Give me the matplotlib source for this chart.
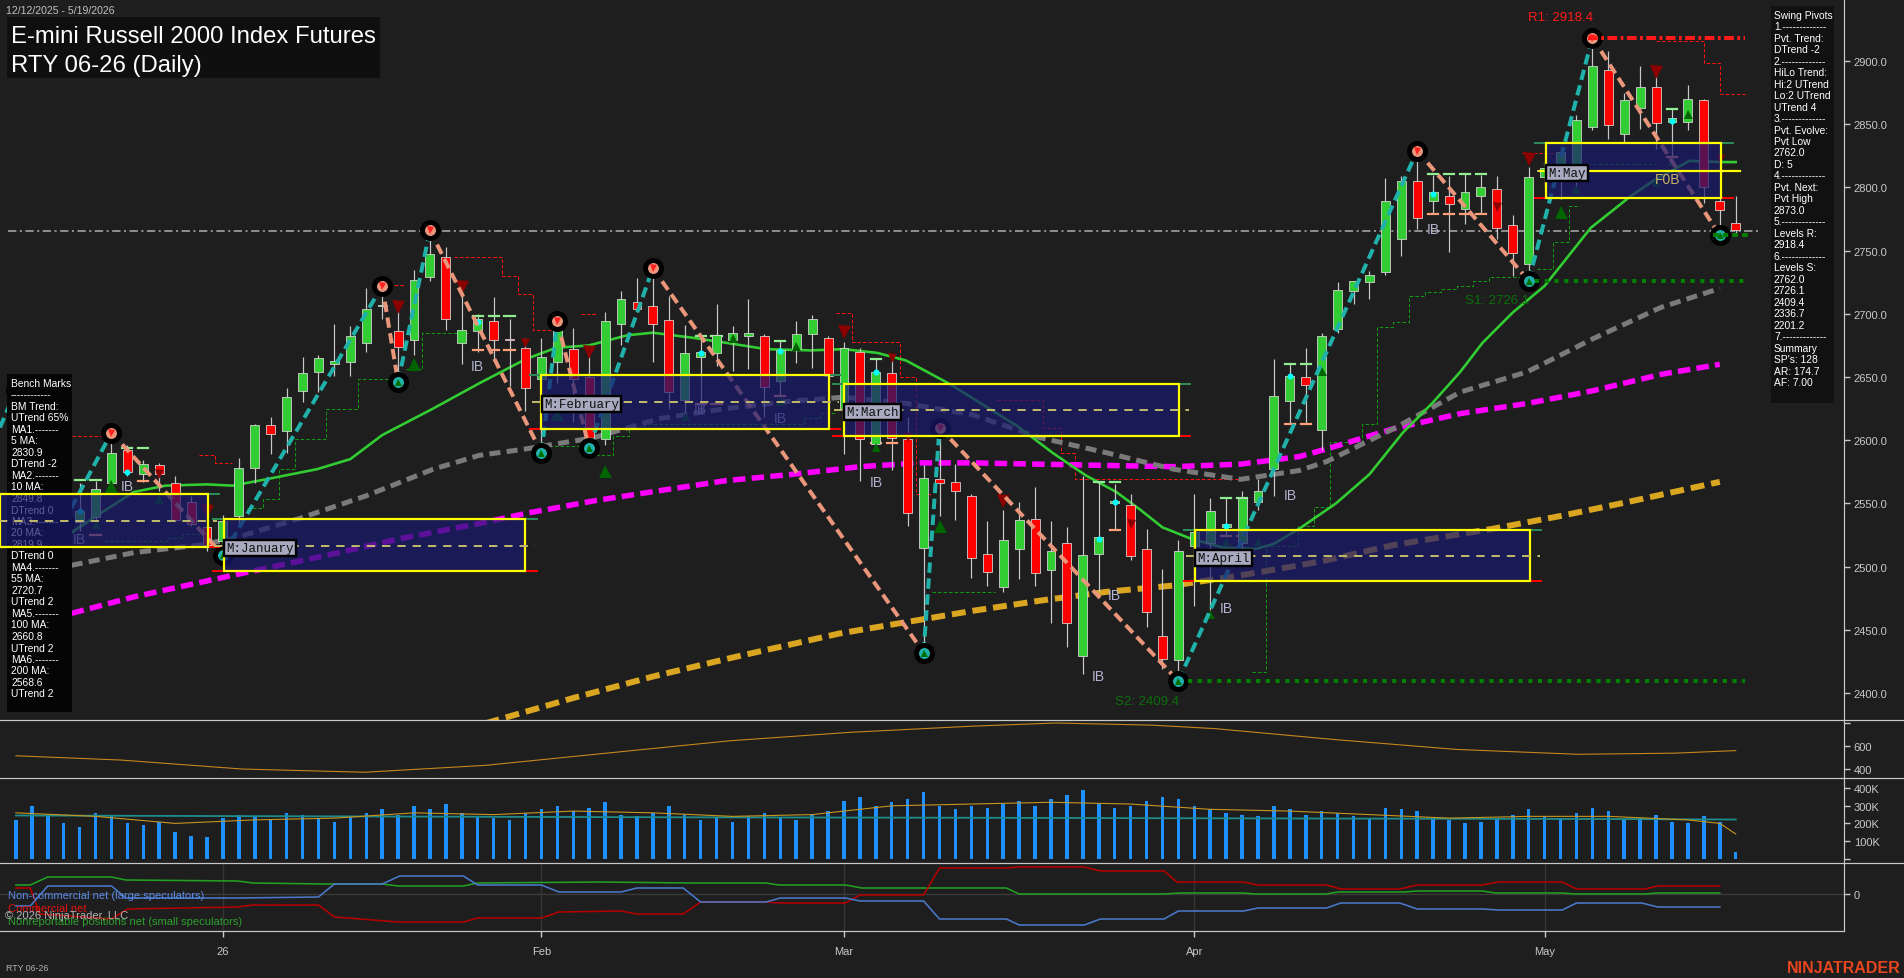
import matplotlib
matplotlib.use("Agg")
import matplotlib.pyplot as plt
from matplotlib.patches import Rectangle

plt.rcParams["font.family"] = ["Liberation Sans", "DejaVu Sans"]
plt.rcParams["lines.scale_dashes"] = False

W, H = 1904, 979
CHART_R = 1844
BG = "#1E1E1E"
FG = "#C8C8C8"
X_MIN, X_MAX = -1.0, 114.8
PT = 0.72  # points per pixel at 100 dpi

# ---------------- daily bars ----------------
opens = [2612, 2630, 2588, 2552, 2535, 2539, 2566, 2592, 2573, 2580,
         2566, 2551, 2531, 2520, 2540, 2578, 2612, 2607, 2639, 2654,
         2660, 2662, 2677, 2706, 2686, 2679, 2729, 2745, 2677, 2686,
         2694, 2680, 2673, 2648, 2662, 2672, 2650, 2601, 2692, 2709,
         2706, 2695, 2632, 2666, 2669, 2679, 2682, 2682, 2647, 2672,
         2684, 2681, 2625, 2670, 2597, 2653, 2601, 2515, 2569, 2567,
         2556, 2510, 2484, 2514, 2538, 2497, 2519, 2429, 2510, 2550,
         2549, 2514, 2445, 2426, 2516, 2519, 2531, 2519, 2551, 2577,
         2631, 2650, 2608, 2688, 2718, 2725, 2733, 2759, 2805, 2789,
         2793, 2783, 2793, 2799, 2770, 2739, 2808, 2806, 2805, 2848,
         2893, 2842, 2863, 2879, 2852, 2852, 2869, 2789, 2772]
highs = [2640, 2634, 2592, 2560, 2566, 2568, 2606, 2596, 2584, 2582,
         2572, 2556, 2535, 2541, 2586, 2613, 2618, 2641, 2666, 2667,
         2692, 2690, 2720, 2722, 2708, 2735, 2766, 2753, 2717, 2700,
         2713, 2696, 2681, 2681, 2694, 2689, 2667, 2701, 2718, 2728,
         2736, 2714, 2691, 2683, 2708, 2690, 2712, 2684, 2679, 2694,
         2699, 2682, 2678, 2673, 2664, 2665, 2618, 2580, 2610, 2581,
         2557, 2536, 2545, 2551, 2563, 2536, 2531, 2572, 2568, 2565,
         2557, 2530, 2498, 2521, 2557, 2554, 2554, 2560, 2569, 2664,
         2660, 2673, 2685, 2725, 2726, 2734, 2807, 2809, 2829, 2810,
         2809, 2811, 2810, 2809, 2778, 2816, 2822, 2832, 2857, 2918.4,
         2908, 2875, 2896, 2890, 2862, 2881, 2870, 2793, 2793]
lows = [2605, 2580, 2548, 2535, 2528, 2531, 2561, 2572, 2567, 2560,
        2535, 2532, 2512, 2509, 2532, 2566, 2589, 2590, 2630, 2638,
        2651, 2651, 2670, 2696, 2646, 2667, 2726, 2687, 2660, 2670,
        2664, 2643, 2623, 2590, 2645, 2614, 2594, 2596, 2675, 2701,
        2662, 2625, 2620, 2622, 2659, 2655, 2656, 2618, 2636, 2661,
        2657, 2648, 2589, 2568, 2592, 2576, 2532, 2432, 2540, 2537,
        2491, 2485, 2480, 2490, 2485, 2455, 2436, 2415, 2480, 2529,
        2505, 2452, 2419, 2409.4, 2469, 2466, 2524, 2515, 2545, 2556,
        2613, 2613, 2592, 2685, 2708, 2712, 2731, 2746, 2767, 2779,
        2749, 2771, 2779, 2759, 2730, 2726.1, 2800, 2791, 2800, 2845,
        2838, 2836, 2846, 2830, 2825, 2845, 2788, 2762, 2763]
closes = [2632, 2588, 2552, 2542, 2544, 2561, 2590, 2575, 2581, 2573,
          2537, 2534, 2517, 2536, 2578, 2612, 2605, 2634, 2653, 2665,
          2663, 2682, 2704, 2707, 2674, 2727, 2747, 2696, 2687, 2696,
          2679, 2679, 2641, 2666, 2687, 2648, 2598, 2694, 2712, 2704,
          2692, 2638, 2669, 2670, 2683, 2685, 2685, 2642, 2671, 2684,
          2696, 2651, 2673, 2601, 2654, 2602, 2542, 2570, 2566, 2560,
          2507, 2496, 2521, 2537, 2495, 2512, 2455, 2509, 2523, 2552,
          2508, 2464, 2427, 2512, 2527, 2544, 2534, 2554, 2560, 2635,
          2651, 2644, 2682, 2719, 2726, 2731, 2789, 2805, 2776, 2796,
          2787, 2796, 2800, 2768, 2748, 2808, 2815, 2828, 2853, 2896,
          2849, 2869, 2879, 2851, 2855, 2870, 2800, 2782, 2766]

# ---------------- moving averages ----------------
ma20_idx = [3.5, 5.3, 7.4, 9.4, 12, 13.6, 15.7, 18.9, 21, 23, 26.2, 29.1, 32, 33.9, 36, 38.4,
            40, 42.5, 44.6, 47.1, 49.9, 52, 54.1, 55.9, 58.7, 60.1, 62.9, 65.1, 67.2, 69.1,
            70.6, 72, 73.8, 75.8, 77.9, 79, 80.6, 82.9, 85, 87.1, 89, 90.7, 92.1, 94, 96,
            97.2, 98.9, 100.1, 101.4, 102.8, 105.1, 107, 108]
ma20_val = [2527, 2542, 2559, 2564, 2565, 2564, 2569, 2577, 2585, 2604, 2625, 2645, 2664, 2673,
            2675, 2683, 2685, 2681, 2677, 2672, 2671, 2672, 2669, 2663, 2644, 2633, 2611, 2590,
            2572, 2559, 2545, 2531, 2522, 2515, 2514, 2518, 2530, 2550, 2573, 2606, 2630, 2654,
            2677, 2701, 2722, 2741, 2768, 2780, 2793, 2805, 2821, 2820, 2820]
ma55_idx = [3.5, 7.4, 11.5, 13.6, 17.8, 22, 26.2, 29.1, 32, 36.3, 40.4, 44.6, 48.8, 52, 55.9,
            60.1, 64.3, 68.5, 72.7, 76.9, 80.6, 82.3, 86.5, 90.7, 94.9, 99, 103.3, 107]
ma55_val = [2501, 2511, 2517, 2522, 2538, 2556, 2577, 2588, 2593, 2602, 2617, 2625, 2631, 2634,
            2629, 2620, 2602, 2590, 2577, 2569, 2576, 2583, 2609, 2638, 2654, 2680, 2705, 2720]
ma100_idx = [3.5, 7.4, 13.6, 19.9, 24.1, 29.1, 32, 36.3, 40.4, 44.6, 48.8, 53, 56.8, 60.1,
             64.3, 68.5, 72.7, 76.9, 80.6, 82.3, 86.5, 90.7, 94.9, 99, 103.3, 107]
ma100_val = [2463, 2476, 2493, 2510, 2522, 2534, 2542, 2552, 2560, 2568, 2573, 2579, 2582, 2582,
             2581, 2580, 2579, 2581, 2587, 2593, 2609, 2621, 2629, 2639, 2652, 2660]
ma200_idx = [29.5, 35, 40, 45, 51.7, 55.9, 60.1, 64.3, 68.5, 72.7, 76.9, 80.6, 82.3, 86.5,
             92.8, 97, 101.2, 107]
ma200_val = [2376, 2396, 2413, 2428, 2447, 2456, 2465, 2473, 2480, 2485, 2493, 2501, 2505,
             2517, 2530, 2540, 2551, 2567]

# ---------------- swing pivots ----------------
piv_idx = [-1.0, 0, 3, 6, 13, 23, 24, 26, 33, 34, 36, 40, 57, 58, 73, 88, 95, 99, 107]
piv_val = [2610, 2640, 2535, 2606, 2509, 2722, 2646, 2766, 2590, 2694, 2594, 2736, 2432, 2610,
           2409.4, 2829, 2726.1, 2918.4, 2762]
piv_kind = ["L", "H", "L", "H", "L", "H", "L", "H", "L", "H", "L", "H", "L", "H", "L", "H",
            "L", "H", "L"]

# ---------------- monthly range boxes ----------------
box_names = ["", "M:January", "M:February", "M:March", "M:April", "M:May"]
box_start = [-1.0, 13.05, 33.0, 52.0, 74.05, 96.1]
box_end = [12.05, 32.0, 51.06, 73.05, 95.1, 107.1]
box_top = [2557.4, 2537.5, 2651.6, 2644.5, 2529.0, 2835.1]
box_bot = [2515.2, 2496.2, 2608.9, 2603.6, 2488.6, 2791.6]
box_mid = [2536.3, 2516.5, 2630.4, 2624.2, 2508.6, 2813.2]

# ---------------- trailing stop steps ----------------
red_steps = [
    [(3.5, 2603), (5.9, 2603)],
    [(11.5, 2588.5), (12.5, 2588.5), (12.5, 2581.6), (13.6, 2581.6)],
    [(23.4, 2723), (24.4, 2723)],
    [(27.5, 2744.6), (30.5, 2744.6), (30.5, 2729.6), (31.5, 2729.6), (31.5, 2715.4),
     (32.5, 2715.4), (32.5, 2687.4), (33.9, 2687.4)],
    [(35.5, 2699.5), (36.5, 2699.5)],
    [(51.5, 2700.3), (52.5, 2700.3), (52.5, 2678), (55.5, 2678), (55.5, 2649.7),
     (56.5, 2649.7), (56.5, 2557), (57.5, 2557)],
    [(61.6, 2631.8), (64.5, 2631.8), (64.5, 2609.6), (65.6, 2609.6), (65.6, 2590),
     (66.5, 2590), (66.5, 2569.3), (77.5, 2569.3)],
    [(94.6, 2827), (96.6, 2827)],
    [(103, 2915.6), (106, 2915.6), (106, 2898.4), (107, 2898.4), (107, 2873.9), (108.6, 2873.9)],
]
green_steps = [
    [(5.5, 2520.5), (9.5, 2520.5), (9.5, 2522.3), (10.5, 2522.3), (10.5, 2526), (11.5, 2526)],
    [(14.5, 2546), (15.5, 2546), (15.5, 2553.4), (16.5, 2553.4), (16.5, 2577.2), (17.5, 2577.2),
     (17.5, 2600.9), (19.5, 2600.9), (19.5, 2624.6), (21.5, 2624.6), (21.5, 2648.4),
     (23.5, 2648.4)],
    [(24.5, 2656), (25.5, 2656), (25.5, 2684.5), (28.5, 2684.5)],
    [(33.5, 2595.6), (36.5, 2595.6), (36.5, 2588), (37.5, 2588), (37.5, 2603.6), (38.5, 2603.6),
     (38.5, 2611.5), (39.5, 2611.5), (39.5, 2612.8), (49.5, 2612.8), (49.5, 2617.3),
     (50.5, 2617.3), (50.5, 2621.5), (51.5, 2621.5)],
    [(57.5, 2479.6), (61.5, 2479.6)],
    [(77.6, 2416.4), (78.5, 2416.4), (78.5, 2516.6), (80.5, 2516.6), (80.5, 2532.4),
     (81.5, 2532.4), (81.5, 2547), (82.5, 2547), (82.5, 2598.3), (84.5, 2598.3), (84.5, 2612.8),
     (85.5, 2612.8), (85.5, 2689.3), (86.5, 2689.3), (86.5, 2693.3), (87.5, 2693.3),
     (87.5, 2713.8), (88.5, 2713.8), (88.5, 2717.5), (89.5, 2717.5), (89.5, 2719.6),
     (90.5, 2719.6), (90.5, 2722.3), (91.5, 2722.3), (91.5, 2725.7), (92.5, 2725.7),
     (92.5, 2728.9), (94.5, 2728.9)],
    [(95.5, 2735.4), (96.5, 2735.4), (96.5, 2756.5), (97.5, 2756.5), (97.5, 2785.6), (98.2, 2785.6)],
    [(95.9, 2818.5), (103.0, 2818.5)],
]

# ---------------- bar markers ----------------
up_big_idx = [6, 25, 34, 37, 58, 97]
up_big_val = [2563.8, 2660.3, 2620.7, 2575.6, 2532, 2780.5]
up_sm_idx = [5, 9, 42, 45, 48, 49, 54, 75, 76, 78, 82, 98, 103, 104, 105]
up_sm_val = [2533.7, 2553.5, 2619.1, 2680.9, 2631, 2674.5, 2594.6, 2462.5, 2520.3, 2520.3,
             2654.7, 2798.7, 2804.3, 2820.9, 2858]
dn_big_idx = [12, 24, 28, 36, 52, 62, 95, 103]
dn_big_val = [2544, 2705.4, 2721.2, 2669.8, 2685.6, 2551.9, 2822.5, 2891.3]
dn_sm_idx = [9, 32, 55, 56, 70, 93, 107]
dn_sm_val = [2573.3, 2676.9, 2665, 2602.5, 2533.7, 2784.5, 2822.5]
dot_idx = [4, 7, 29, 43, 48, 54, 68, 69, 76, 80, 89, 104]
dot_val = [2544, 2574.8, 2693.5, 2669, 2670.6, 2654, 2521.8, 2551, 2532, 2650.8, 2794.8, 2852.5]
ib_idx = [4, 7, 29, 43, 48, 54, 69, 68, 76, 80, 89]
ib_val = [2521.8, 2563.8, 2658.7, 2624.7, 2617.6, 2567, 2477.5, 2413.4, 2467.2, 2556.6, 2767]
ibtop_idx = [4, 5, 7, 8, 29, 30, 31, 43, 44, 48, 54, 68, 69, 76, 77, 80, 81, 89, 90, 91, 92, 104]
ibtop_val = [2568.6, 2568.6, 2593.8, 2593.8, 2698.5, 2698.5, 2698.5, 2682.7, 2682.7, 2678.7,
             2664, 2567, 2567, 2554.3, 2554.3, 2660.3, 2660.3, 2810.6, 2810.6, 2810.6, 2810.6,
             2862]
ibbot_idx = [5, 8, 29, 30, 31, 43, 44, 48, 54, 55, 69, 76, 77, 80, 81, 89, 90, 91, 92, 104]
ibbot_val = [2525, 2568, 2671.6, 2671.6, 2671.6, 2628.6, 2628.6, 2635, 2597.7, 2597.7, 2529.2,
             2524.5, 2524.5, 2612.8, 2612.8, 2778.9, 2778.9, 2778.9, 2778.9, 2824.3]

R1, S1, S2, LAST_PIVOT, LAST_PRICE = 2918.4, 2726.1, 2409.4, 2762.3, 2765.5

bench_lines = ["Bench Marks", "------------", "BM Trend:", "UTrend 65%", "MA1.-------", "5 MA:",
               "2830.9", "DTrend -2", "MA2.-------", "10 MA:", "2849.8", "DTrend 0",
               "MA3.-------", "20 MA:", "2819.9", "DTrend 0", "MA4.-------", "55 MA:", "2720.7",
               "UTrend 2", "MA5.-------", "100 MA:", "2660.8", "UTrend 2", "MA6.-------",
               "200 MA:", "2568.6", "UTrend 2"]
swing_lines = ["Swing Pivots", "1.-------------", "Pvt. Trend:", "DTrend -2", "2.-------------",
               "HiLo Trend:", "Hi:2 UTrend", "Lo:2 UTrend", "UTrend 4", "3.-------------",
               "Pvt. Evolve:", "Pvt Low", "2762.0", "D: 5", "4.-------------", "Pvt. Next:",
               "Pvt High", "2873.0", "5.-------------", "Levels R:", "2918.4", "6.-------------",
               "Levels S:", "2762.0", "2726.1", "2409.4", "2336.7", "2201.2", "7.-------------",
               "Summary", "SP's: 128", "AR: 174.7", "AF: 7.00"]

# ---------------- lower panes ----------------
atr_idx = [0, 6.6, 14.2, 21.9, 29.5, 37.1, 44.8, 52.4, 60, 65.3, 71.4, 75.3, 82.9, 90.5, 98.1,
           104.2, 108]
atr_val = [515, 478, 400, 372, 432, 538, 645, 719, 772, 800, 781, 751, 655, 570, 528, 538, 560]

volume = [220, 300, 250, 200, 180, 260, 240, 200, 190, 210,
          150, 130, 120, 230, 250, 240, 220, 260, 250, 230,
          210, 240, 260, 280, 250, 300, 280, 310, 260, 240,
          230, 220, 260, 280, 300, 270, 290, 320, 250, 240,
          260, 300, 250, 220, 230, 210, 240, 260, 230, 220,
          250, 270, 330, 350, 300, 320, 340, 380, 300, 280,
          300, 290, 310, 330, 300, 340, 360, 390, 310, 290,
          300, 330, 350, 340, 300, 280, 260, 250, 240, 300,
          280, 250, 270, 260, 240, 230, 290, 280, 270, 230,
          220, 200, 210, 230, 250, 280, 240, 230, 260, 290,
          270, 220, 230, 250, 210, 200, 240, 210, 40]
vol_ma_idx = [0, 5, 10, 15, 20, 25, 30, 35, 40, 45, 50, 55, 60, 65, 70, 75, 80, 85, 90, 95,
              100, 105, 107, 108]
vol_ma_val = [260, 240, 200, 220, 230, 260, 250, 270, 260, 240, 250, 300, 310, 320, 310, 280,
              270, 250, 230, 240, 240, 220, 200, 140]
oi_idx = [0, 20, 40, 60, 80, 100, 108]
oi_val = [245, 240, 235, 232, 228, 225, 222]

cot_blue_idx = [0.0, 0.9, 2.0, 6.0, 6.9, 13.9, 19.0, 20.0, 23.0, 24.1, 28.1, 29.0, 33.0, 34.1,
                38.0, 39.0, 41.9, 43.0, 47.1, 48.0, 52.1, 53.0, 57.0, 58.0, 62.2, 63.0, 67.1,
                68.1, 72.1, 73.0, 77.1, 78.0, 82.3, 83.2, 86.9, 88.0, 92.1, 93.1, 97.1, 98.0,
                102.1, 103.1, 107.0]
cot_blue_val = [-12, -12, 8, 8, -4, -4, -3, 10, 10, 18, 18, 9, 9, 2, 2, 6, 6, -8, -8, -4, -4, -7,
                -7, -25, -25, -31, -31, -25, -25, -17, -17, -14, -14, -9, -9, -15, -15, -16, -16,
                -9, -9, -13, -13]
cot_red_idx = [0.0, 0.9, 1.5, 6.0, 7.0, 13.9, 14.9, 19.0, 20.0, 24.0, 28.1, 29.0, 33.0, 34.1,
               38.0, 39.0, 41.9, 43.0, 47.1, 48.0, 52.1, 53.0, 57.0, 58.0, 62.2, 63.0, 67.1,
               68.1, 72.1, 72.9, 77.1, 78.0, 82.3, 83.2, 86.9, 88.0, 92.1, 93.1, 97.1, 98.0,
               102.3, 103.1, 107.0]
cot_red_val = [6, 6, -20, -25, -15, -13, -11, -11, -23, -28, -28, -24, -24, -18, -17, -20, -20,
               -8, -8, -9, -9, -1, -1, 26, 26, 27, 27, 23, 23, 12, 12, 9, 9, 5, 5, 9, 9, 12, 12,
               5, 5, 8, 8]
cot_green_idx = [0.0, 0.9, 2.0, 6.0, 6.9, 13.9, 14.9, 19.4, 23.0, 24.0, 28.1, 29.0, 36.7, 42.4,
                 47.1, 47.9, 52.1, 53.1, 62.2, 63.0, 72.1, 73.1, 77.1, 77.8, 82.3, 83.0, 87.2,
                 88.0, 92.1, 92.9, 97.1, 97.9, 102.3, 103.1, 107.0]
cot_green_val = [9, 9, 17, 17, 14, 13, 11, 10, 10, 8, 8, 11, 12, 11, 11, 9, 9, 6, 6, 0, 0, 1, 1,
                 0, 0, 2, 2, 3, 3, 1, 1, 0, 0, 1, 1]

tick_idx = [13, 33, 52, 74, 96]
tick_lbl = ["26", "Feb", "Mar", "Apr", "May"]

# =====================================================================
fig = plt.figure(figsize=(W / 100, H / 100), dpi=100, facecolor=BG)


def add_pane(top, bottom):
    ax = fig.add_axes([0, 1 - bottom / H, CHART_R / W, (bottom - top) / H])
    ax.set_facecolor(BG)
    ax.set_xlim(X_MIN, X_MAX)
    for sp in ax.spines.values():
        sp.set_visible(False)
    ax.yaxis.tick_right()
    ax.tick_params(axis="y", colors=FG, length=4, width=1, labelsize=8, pad=3)
    ax.tick_params(axis="x", bottom=False, labelbottom=False)
    return ax


def ftext(x, y, s, **kw):
    fig.text(x / W, 1 - y / H, s, **kw)


# ---------------- price pane ----------------
ax = add_pane(0, 721)
ax.set_ylim(2378.6, 2949)
ticks = list(range(2400, 2901, 50))
ax.set_yticks(ticks)
ax.set_yticklabels([f"{t:.1f}" for t in ticks])


def axbox(x0, y0, x1, y1, **kw):
    # rectangle in chart pixels (price pane)
    ax.add_patch(Rectangle((x0 / CHART_R, 1 - y1 / 721), (x1 - x0) / CHART_R, (y1 - y0) / 721,
                           transform=ax.transAxes, **kw))


# moving averages
ax.plot(ma200_idx, ma200_val, color="#DAA520", lw=6 * PT, dashes=(10, 5), zorder=2.4)
ax.plot(ma100_idx, ma100_val, color="#FF00FF", lw=5.5 * PT, dashes=(9, 4.5), zorder=2.4)
ax.plot(ma55_idx, ma55_val, color="#7A7A7A", lw=5 * PT, dashes=(8, 4.5), zorder=2.4)
ax.plot(ma20_idx, ma20_val, color="#32CD32", lw=2.6 * PT, zorder=2.5)

# current price line
ax.plot([-0.5, 109.6], [LAST_PRICE] * 2, color="#A8A8A8", lw=1.6 * PT,
        dashes=(6, 2.5, 1.5, 2.5), zorder=2.3)

# trailing stops
for seg in red_steps:
    ax.plot([p[0] for p in seg], [p[1] for p in seg], color="#FF1010", lw=1 * PT,
            dashes=(2.5, 1.5), zorder=2.2)
for seg in green_steps:
    ax.plot([p[0] for p in seg], [p[1] for p in seg], color="#129A12", lw=1 * PT,
            dashes=(2.5, 1.5), zorder=2.2)

# candles
for i in range(len(opens)):
    o, h, l, c = opens[i], highs[i], lows[i], closes[i]
    col = "#32CD32" if c >= o else "#FF0000"
    ax.vlines(i, l, h, color="#C8C8C8", lw=1.2 * PT, zorder=3)
    ax.add_patch(Rectangle((i - 0.28, min(o, c)), 0.56, max(abs(c - o), 0.9), facecolor=col,
                           edgecolor="#D8D8D8", lw=0.8 * PT, zorder=3.2))

# IB dashes
for i, v in zip(ibtop_idx, ibtop_val):
    ax.plot([i - 0.32, i + 0.32], [v, v], color="#90EE90", lw=2.2 * PT, zorder=3.1)
for i, v in zip(ibbot_idx, ibbot_val):
    ax.plot([i - 0.32, i + 0.32], [v, v], color="#FFA07A", lw=2.2 * PT, zorder=3.1)

# markers
ax.plot(up_big_idx, up_big_val, "^", color="#006400", ms=13 * PT, mew=0, zorder=3.4)
ax.plot(up_sm_idx, up_sm_val, "^", color="#006400", ms=9 * PT, mew=0, zorder=3.4)
ax.plot(dn_big_idx, dn_big_val, "v", color="#8B0000", ms=13 * PT, mew=0, zorder=3.4)
ax.plot(dn_sm_idx, dn_sm_val, "v", color="#8B0000", ms=9 * PT, mew=0, zorder=3.4)
ax.plot(dot_idx, dot_val, "o", color="#00FFFF", ms=6 * PT, mew=0, zorder=3.4)
for i, v in zip(ib_idx, ib_val):
    ax.text(i, v, "IB", color="#B4B4D2", fontsize=10, ha="center", va="center", zorder=3.4)

# swing lines and pivots
for k in range(len(piv_idx) - 1):
    col = "#20B2AA" if piv_kind[k] == "L" else "#E9967A"
    ax.plot(piv_idx[k:k + 2], piv_val[k:k + 2], color=col, lw=4 * PT, dashes=(7.5, 4),
            solid_capstyle="butt", zorder=3.5)
for i, v, kd in zip(piv_idx[1:], piv_val[1:], piv_kind[1:]):
    fc = "#E9967A" if kd == "H" else "#20B2AA"
    ax.plot(i, v, "o", ms=16 * PT, mfc=fc, mec="black", mew=5 * PT, zorder=3.6)
    if kd == "H":
        ax.plot(i, v, "v", ms=7 * PT, color="#FF2020", mew=0, zorder=3.7)
    else:
        ax.plot(i, v, "^", ms=7 * PT, color="#007000", mew=0, zorder=3.7)

# level lines
ax.plot([98.7, 108.6], [R1, R1], color="#FF1A1A", lw=4 * PT, dashes=(7, 2.5, 2, 2.5), zorder=4)
ax.plot([95.4, 108.6], [S1, S1], color="#008000", lw=4 * PT, dashes=(3, 4), zorder=4)
ax.plot([73.6, 108.6], [S2, S2], color="#008000", lw=4 * PT, dashes=(3, 4), zorder=4)
ax.plot([106.6, 108.8], [LAST_PIVOT, LAST_PIVOT], color="#008000", lw=4 * PT, dashes=(4, 3),
        zorder=4)
ax.text(97.0, R1 + 16, "R1: 2918.4", color="#FF1A1A", fontsize=9.5, ha="center", va="center",
        zorder=7)
ax.text(93.0, S1 - 15.5, "S1: 2726.1", color="#0A6E0A", fontsize=9.5, ha="center", va="center",
        zorder=7)
ax.text(71.0, S2 - 15.7, "S2: 2409.4", color="#0A6E0A", fontsize=9.5, ha="center", va="center",
        zorder=7)

# bench marks panel (under the month boxes)
axbox(7, 375, 72, 713, facecolor="#050505", edgecolor="none", zorder=4.5)
for n, line in enumerate(bench_lines):
    ax.text(11 / CHART_R, 1 - (384 + 11.5 * n) / 721, line, transform=ax.transAxes,
            color="white", fontsize=7.4, va="center", ha="left", zorder=4.6)

# monthly boxes
for name, x0, x1, top, bot, mid in zip(box_names, box_start, box_end, box_top, box_bot, box_mid):
    ax.add_patch(Rectangle((x0, bot), x1 - x0, top - bot, facecolor="#191970", alpha=0.7,
                           edgecolor="none", zorder=5))
    ax.plot([x0 - 0.7, x1 + 0.7], [top, top], color="#2E8B57", lw=2 * PT, zorder=5.4)
    ax.plot([x0 - 0.7, x1 + 0.7], [bot, bot], color="#FF0000", lw=2 * PT, zorder=5.4)
    ax.add_patch(Rectangle((x0, bot), x1 - x0, top - bot, facecolor="none", edgecolor="#FFFF00",
                           lw=2.2 * PT, zorder=5.5))
    ax.plot([x0 - 0.6, x1 + 0.6], [mid, mid], color="#BDB76B", lw=2 * PT, dashes=(6, 5),
            zorder=5.6)
    if name:
        ax.text(x0 + 0.15, mid - 2, name, color="#101010", fontsize=9, family="Liberation Mono",
                ha="left", va="center", zorder=7,
                bbox=dict(boxstyle="square,pad=0.18", fc="#A9A9C0", ec="black", lw=2.4 * PT))
ax.plot([95.7, 108.3], [box_mid[-1], box_mid[-1]], color="#FFFF00", lw=2.2 * PT, zorder=5.6)
ax.text(103.7, 2806.6, "F0B", color="#C8B464", fontsize=10, ha="center", va="center", zorder=6)

# swing pivot panel
axbox(1771, 7, 1834, 404, facecolor="#111111", edgecolor="none", zorder=8)
for n, line in enumerate(swing_lines):
    ax.text(1774 / CHART_R, 1 - (15.7 + 11.48 * n) / 721, line, transform=ax.transAxes,
            color="white", fontsize=7.4, va="center", ha="left", zorder=8.1)

# ---------------- ATR-type pane ----------------
ax2 = add_pane(721, 779)
ax2.set_ylim(322, 826)
ax2.set_yticks([400, 600, 800])
ax2.set_yticklabels(["400", "600", ""])
ax2.plot(atr_idx, atr_val, color="#C8871E", lw=1.1 * PT)

# ---------------- volume pane ----------------
ax3 = add_pane(779, 864)
ax3.set_ylim(-25, 458)
ax3.set_yticks([0, 100, 200, 300, 400])
ax3.set_yticklabels(["", "100K", "200K", "300K", "400K"])
ax3.bar(range(len(volume)), volume, width=0.22, color="#1E90FF", zorder=2)
ax3.plot(oi_idx, oi_val, color="#1E8C8C", lw=1.8 * PT, zorder=3)
ax3.plot(vol_ma_idx, vol_ma_val, color="#C8961E", lw=1.1 * PT, zorder=3)

# ---------------- COT pane ----------------
ax4 = add_pane(864, 932)
ax4.set_ylim(-37, 31)
ax4.set_yticks([0])
ax4.set_yticklabels(["0"])
ax4.axhline(0, color="#3A3A3A", lw=1, zorder=1)
for t in tick_idx:
    ax4.axvline(t, color="#363636", lw=1, zorder=1)
ax4.plot(cot_green_idx, cot_green_val, color="#22A022", lw=1.6 * PT, zorder=3)
ax4.plot(cot_red_idx, cot_red_val, color="#B40000", lw=1.6 * PT, zorder=3)
ax4.plot(cot_blue_idx, cot_blue_val, color="#4A78C8", lw=1.6 * PT, zorder=3)
ax4.set_xticks(tick_idx)
ax4.set_xticklabels(tick_lbl)
ax4.tick_params(axis="x", bottom=True, labelbottom=True, colors=FG, length=4, width=1,
                labelsize=8, pad=7)

# pane separators
for y, x1 in [(721, W), (779, W), (864, W), (932, CHART_R)]:
    fig.add_artist(plt.Line2D([0, x1 / W], [1 - y / H] * 2, color=FG, lw=1.2 * PT))
fig.add_artist(plt.Line2D([CHART_R / W] * 2, [1 - 932 / H, 1], color=FG, lw=1.2 * PT))

# texts
fig.patches.append(Rectangle((7 / W, 1 - 79 / H), 373 / W, 61 / H, transform=fig.transFigure,
                             facecolor="#0F0F0F", edgecolor="none", zorder=10))
ftext(11, 43, "E-mini Russell 2000 Index Futures", color="white", fontsize=17.2,
      va="baseline", zorder=11)
ftext(11, 72, "RTY 06-26 (Daily)", color="white", fontsize=17.2, va="baseline", zorder=11)
ftext(6, 11, "12/12/2025 - 5/19/2026", color="#C0C0C0", fontsize=7.6, va="center", zorder=11)

ftext(8, 896, "Non-commercial net (large speculators)", color="#5A8AE6", fontsize=8,
      va="center", zorder=11)
ftext(8, 909, "Commercial net", color="#E01010", fontsize=8, va="center", zorder=11)
ftext(8, 922, "Nonreportable positions net (small speculators)", color="#2EA02E", fontsize=8,
      va="center", zorder=11)
ftext(5, 916, "\u00a9 2026 NinjaTrader, LLC", color="#B4B4B4", fontsize=8, va="center",
      zorder=12)
ftext(6, 969, "RTY 06-26", color="#B4B4B4", fontsize=6.3, va="center", zorder=11)
ftext(1901, 969, "NINJATRADER", color="#E8461E", fontsize=11.5, fontweight="bold", ha="right",
      va="center", zorder=11)

fig.savefig("out.png", dpi=100, facecolor=BG)
